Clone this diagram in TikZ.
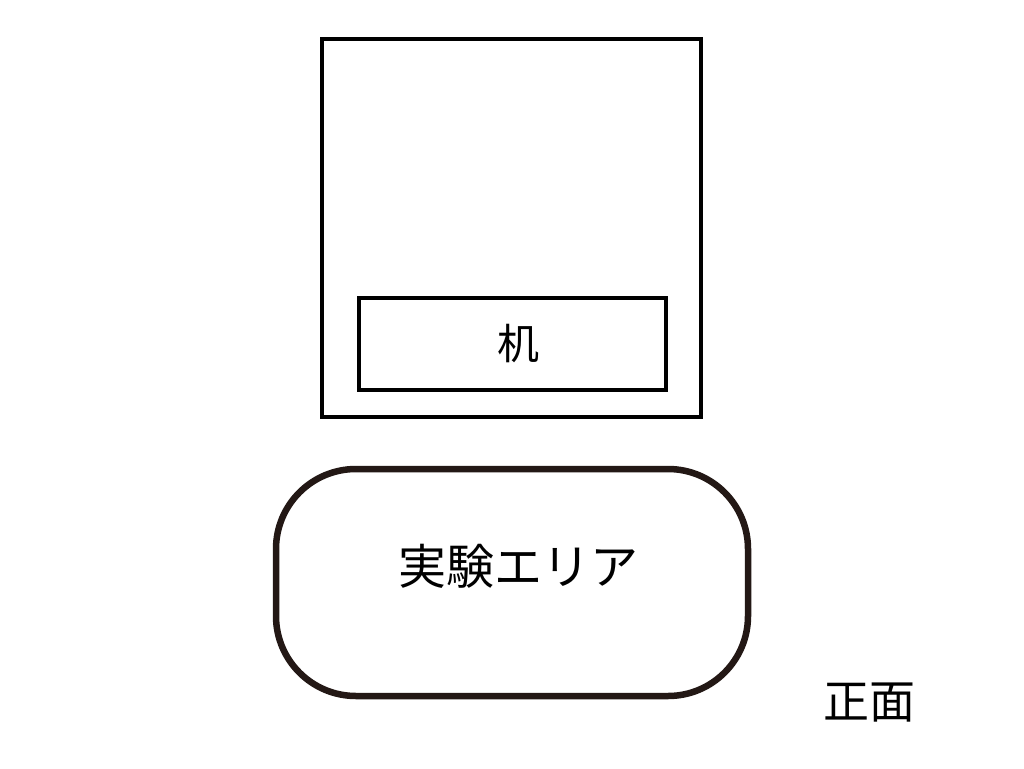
\documentclass[tikz,border=0pt]{standalone}
\usepackage{fontspec}
\newfontfamily\jp{Noto Sans CJK JP}
\definecolor{ink}{HTML}{231815}
\begin{document}
\begin{tikzpicture}[x=1pt,y=-1pt,
  boxline/.style={draw=black,line width=4pt},
  arealine/.style={draw=ink,line width=6.5pt},
  label/.style={font=\jp\fontsize{42}{42}\selectfont,inner sep=0pt,anchor=center}]
\useasboundingbox (0,0) rectangle (1024,768);
\fill[white] (0,0) rectangle (1024,768);
\draw[boxline] (322,39.5) rectangle (701,417);
\draw[boxline] (358.5,297.5) rectangle (665.5,389.5);
\node[label] (desk) at (518,344) {机};
\draw[arealine,rounded corners=80pt] (276,469) rectangle (748,696);
\node[label,font=\jp\fontsize{48}{48}\selectfont] (area) at (518,566) {実験エリア};
\node[label,font=\jp\fontsize{46}{46}\selectfont] (front) at (869,703) {正面};
\end{tikzpicture}
\end{document}
